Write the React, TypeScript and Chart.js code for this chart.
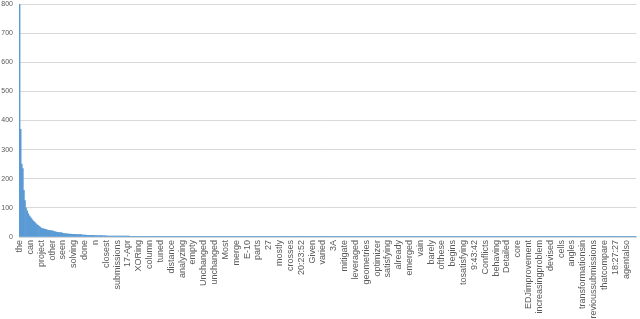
import React, { useEffect, useRef } from "react";
import { Chart, registerables } from "chart.js";

Chart.register(...registerables);

// Words shown as axis labels (every 10th ranked word)
const visibleWords = [
  "the", "can", "project", "other", "seen", "solving", "done", "n", "closest", "submissions",
  "17-Apr", "XORing", "column", "tuned", "distance", "analyzing", "empty", "Unchanged", "unchanged", "Most",
  "merge", "E-10", "parts", "27", "mostly", "crosses", "20:23:52", "Given", "varied", "3A",
  "mitigate", "leveraged", "geometries", "optimizer", "satisfying", "already", "emerged", "vain", "barely", "ofthese",
  "begins", "tosatisfying", "9:43:42", "Conflicts", "behaving", "Detailed", "core", "EDJimprovement", "increasingproblem", "devised",
  "cells", "angles", "transformationsin", "previoussubmissions", "thatcompare", "18:27:27", "agentalso",
];
const wordsPerLabel = 10;

// Frequencies of the most common words (ranked)
const headCounts = [
  800, 370, 250, 235, 160, 125, 100, 90, 80, 73,
  68, 63, 58, 54, 50, 46, 43, 40, 37, 34,
  31, 29, 28, 27, 26, 25, 24, 23, 22, 22,
  21, 20, 19, 18, 17, 16, 15, 15, 15, 14,
  13, 12, 12, 11, 11, 10, 10, 10, 9, 9,
  9, 9, 8, 8, 8, 8, 8, 8, 7, 7,
  7, 7, 6, 6, 6, 6, 6, 6, 6, 5,
  5, 5, 5, 5, 5, 5, 5, 4, 4, 4,
  4,
];
// Tail: many words share the same small frequency
const tieValues = [3, 2, 1];
const tieCounts = [21, 71, 397];

const yTicks = [0, 100, 200, 300, 400, 500, 600, 700, 800];

export default function App() {
  const ref = useRef<HTMLCanvasElement | null>(null);

  useEffect(() => {
    document.body.style.margin = "0";
    const counts: number[] = [...headCounts];
    tieValues.forEach((v, k) => {
      for (let j = 0; j < tieCounts[k]; j++) counts.push(v);
    });
    const labels = counts.map((_, i) =>
      i % wordsPerLabel === 0 ? visibleWords[i / wordsPerLabel] ?? "" : ""
    );

    const chart = new Chart(ref.current!, {
      type: "bar",
      data: {
        labels,
        datasets: [
          {
            data: counts,
            backgroundColor: "#5B9BD5",
            borderWidth: 0,
            barPercentage: 1,
            categoryPercentage: 1,
          },
        ],
      },
      options: {
        animation: false,
        responsive: false,
        devicePixelRatio: 1,
        layout: { padding: { top: 4, right: 2, left: 0, bottom: 0 } },
        plugins: { legend: { display: false }, tooltip: { enabled: false } },
        scales: {
          x: {
            grid: { display: false, drawTicks: false },
            border: { display: true, color: "#D9D9D9" },
            ticks: {
              autoSkip: false,
              maxRotation: 90,
              minRotation: 90,
              padding: 3,
              color: "#595959",
              font: { family: "'Liberation Sans', Arial, sans-serif", size: 9 },
              callback: (_v: any, i: number) => (i % wordsPerLabel === 0 ? labels[i] : null),
            },
            afterFit: (s: any) => {
              s.height = 82;
            },
          },
          y: {
            min: 0,
            max: 800,
            afterBuildTicks: (s: any) => {
              s.ticks = yTicks.map((v) => ({ value: v }));
            },
            grid: { color: "#D9D9D9", drawTicks: false },
            border: { display: false },
            ticks: {
              padding: 6,
              color: "#595959",
              font: { family: "'Liberation Sans', Arial, sans-serif", size: 7 },
            },
            afterFit: (s: any) => {
              s.width = 19;
              s.paddingTop = 0;
            },
          },
        },
      },
    });
    return () => chart.destroy();
  }, []);

  return (
    <div style={{ width: 640, height: 319 }}>
      <canvas ref={ref} width={640} height={319} />
    </div>
  );
}
